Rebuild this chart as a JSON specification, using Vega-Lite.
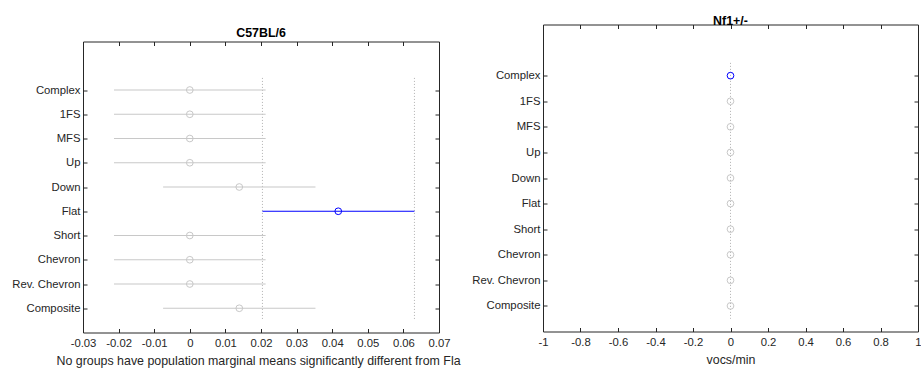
{
  "$schema": "https://vega.github.io/schema/vega-lite/v6.json",
  "padding": {"left": 11, "top": 13.5, "right": 0, "bottom": 0},
  "background": "white",
  "config": {
    "font": "Liberation Sans",
    "view": {"stroke": "#262626", "strokeWidth": 1},
    "axis": {
      "grid": false,
      "domain": false,
      "tickColor": "#262626",
      "tickSize": -4,
      "labelColor": "#262626",
      "labelFont": "Liberation Sans",
      "labelFontSize": 11.3,
      "labelOverlap": false,
      "labelFlush": false,
      "titleFont": "Liberation Sans",
      "titleFontSize": 12.4,
      "titleFontWeight": "normal",
      "titleColor": "#262626"
    },
    "title": {"font": "Liberation Sans", "fontSize": 12.4, "fontWeight": "bold", "color": "#000000", "offset": -3}
  },
  "datasets": {
    "c57": [
      {"group": "Complex", "value": 0, "lo": -0.0213, "hi": 0.0213, "status": "ns"},
      {"group": "1FS", "value": 0, "lo": -0.0213, "hi": 0.0213, "status": "ns"},
      {"group": "MFS", "value": 0, "lo": -0.0213, "hi": 0.0213, "status": "ns"},
      {"group": "Up", "value": 0, "lo": -0.0213, "hi": 0.0213, "status": "ns"},
      {"group": "Down", "value": 0.0139, "lo": -0.0075, "hi": 0.0353, "status": "ns"},
      {"group": "Flat", "value": 0.0417, "lo": 0.0204, "hi": 0.0631, "status": "selected"},
      {"group": "Short", "value": 0, "lo": -0.0213, "hi": 0.0213, "status": "ns"},
      {"group": "Chevron", "value": 0, "lo": -0.0213, "hi": 0.0213, "status": "ns"},
      {"group": "Rev. Chevron", "value": 0, "lo": -0.0213, "hi": 0.0213, "status": "ns"},
      {"group": "Composite", "value": 0.0139, "lo": -0.0075, "hi": 0.0353, "status": "ns"}
    ],
    "nf1": [
      {"group": "Complex", "value": 0, "lo": 0, "hi": 0, "status": "selected"},
      {"group": "1FS", "value": 0, "lo": 0, "hi": 0, "status": "ns"},
      {"group": "MFS", "value": 0, "lo": 0, "hi": 0, "status": "ns"},
      {"group": "Up", "value": 0, "lo": 0, "hi": 0, "status": "ns"},
      {"group": "Down", "value": 0, "lo": 0, "hi": 0, "status": "ns"},
      {"group": "Flat", "value": 0, "lo": 0, "hi": 0, "status": "ns"},
      {"group": "Short", "value": 0, "lo": 0, "hi": 0, "status": "ns"},
      {"group": "Chevron", "value": 0, "lo": 0, "hi": 0, "status": "ns"},
      {"group": "Rev. Chevron", "value": 0, "lo": 0, "hi": 0, "status": "ns"},
      {"group": "Composite", "value": 0, "lo": 0, "hi": 0, "status": "ns"}
    ]
  },
  "spacing": 10,
  "hconcat": [
    {
      "spacing": 0.01,
      "vconcat": [
        {
          "width": 356,
          "height": 1,
          "view": {"stroke": null},
          "data": {"values": []},
          "mark": {"type": "point", "opacity": 0},
          "encoding": {}
        },
        {
          "title": {"text": "C57BL/6", "offset": 2},
          "width": 356,
          "height": 291,
          "data": {"name": "c57"},
          "resolve": {"axis": {"x": "independent", "y": "independent"}},
          "layer": [
            {
              "transform": [{"filter": "datum.status == 'selected'"}],
              "mark": {"type": "rule", "strokeDash": [1, 2], "color": "#b0b0b0", "strokeWidth": 1, "yOffset": -12.1, "y2Offset": 12.1},
              "encoding": {
                "x": {"field": "lo", "type": "quantitative", "axis": null},
                "y": {"datum": "Complex", "type": "nominal", "axis": null},
                "y2": {"datum": "Composite"}
              }
            },
            {
              "transform": [{"filter": "datum.status == 'selected'"}],
              "mark": {"type": "rule", "strokeDash": [1, 2], "color": "#b0b0b0", "strokeWidth": 1, "yOffset": -12.1, "y2Offset": 12.1},
              "encoding": {
                "x": {"field": "hi", "type": "quantitative", "axis": null},
                "y": {"datum": "Complex", "type": "nominal", "axis": null},
                "y2": {"datum": "Composite"}
              }
            },
            {
              "mark": {"type": "rule", "strokeWidth": 1.2},
              "encoding": {
                "x": {
                  "field": "lo", "type": "quantitative",
                  "scale": {"domain": [-0.03, 0.07], "nice": false, "zero": false},
                  "axis": {
                    "orient": "bottom",
                    "values": [-0.03, -0.02, -0.01, 0, 0.01, 0.02, 0.03, 0.04, 0.05, 0.06, 0.07],
                    "labelExpr": "'' + datum.value",
                    "labelPadding": 9,
                    "title": "No groups have population marginal means significantly different from Fla",
                    "titleAlign": "left",
                    "titleAnchor": "start",
                    "titleX": -27,
                    "titlePadding": 6
                  }
                },
                "x2": {"field": "hi"},
                "y": {
                  "field": "group", "type": "nominal",
                  "scale": {"type": "point", "domain": [" ", "Complex", "1FS", "MFS", "Up", "Down", "Flat", "Short", "Chevron", "Rev. Chevron", "Composite"], "padding": 1, "align": 0.5},
                  "axis": {"orient": "left", "title": null, "labelPadding": 7, "values": ["Complex", "1FS", "MFS", "Up", "Down", "Flat", "Short", "Chevron", "Rev. Chevron", "Composite"]}
                },
                "color": {"field": "status", "type": "nominal", "scale": {"domain": ["ns", "selected"], "range": ["#c8c8c8", "#0000ff"]}, "legend": null}
              }
            },
            {
              "mark": {"type": "point", "shape": "circle", "size": 45, "strokeWidth": 1, "filled": false, "opacity": 1},
              "encoding": {
                "x": {
                  "field": "value", "type": "quantitative",
                  "axis": {"orient": "top", "values": [-0.03, -0.02, -0.01, 0, 0.01, 0.02, 0.03, 0.04, 0.05, 0.06, 0.07], "labels": false, "title": null}
                },
                "y": {"field": "group", "type": "nominal", "axis": {"orient": "right", "labels": false, "title": null, "values": ["Complex", "1FS", "MFS", "Up", "Down", "Flat", "Short", "Chevron", "Rev. Chevron", "Composite"]}},
                "color": {"field": "status", "type": "nominal", "scale": {"domain": ["ns", "selected"], "range": ["#c8c8c8", "#0000ff"]}, "legend": null}
              }
            }
          ]
        }
      ]
    },
    {
      "title": "Nf1+/-",
      "width": 375,
      "height": 307,
      "data": {"name": "nf1"},
      "resolve": {"axis": {"x": "independent", "y": "independent"}},
      "layer": [
        {
          "transform": [{"filter": "datum.status == 'selected'"}],
          "mark": {"type": "rule", "strokeDash": [1, 2], "color": "#b0b0b0", "strokeWidth": 1, "yOffset": -12.8, "y2Offset": 12.8},
          "encoding": {
            "x": {"field": "value", "type": "quantitative", "axis": null},
            "y": {"datum": "Complex", "type": "nominal", "axis": null},
            "y2": {"datum": "Composite"}
          }
        },
        {
          "mark": {"type": "rule", "strokeWidth": 1.2},
          "encoding": {
            "x": {
              "field": "lo", "type": "quantitative",
              "scale": {"domain": [-1, 1], "nice": false, "zero": false},
              "axis": {
                "orient": "bottom",
                "values": [-1, -0.8, -0.6, -0.4, -0.2, 0, 0.2, 0.4, 0.6, 0.8, 1],
                "labelExpr": "'' + datum.value",
                "labelPadding": 9,
                "title": "vocs/min",
                "titlePadding": 6
              }
            },
            "x2": {"field": "hi"},
            "y": {
              "field": "group", "type": "nominal",
              "scale": {"type": "point", "domain": [" ", "Complex", "1FS", "MFS", "Up", "Down", "Flat", "Short", "Chevron", "Rev. Chevron", "Composite"], "padding": 1, "align": 0.5},
              "axis": {"orient": "left", "title": null, "labelPadding": 7, "values": ["Complex", "1FS", "MFS", "Up", "Down", "Flat", "Short", "Chevron", "Rev. Chevron", "Composite"]}
            },
            "color": {"field": "status", "type": "nominal", "scale": {"domain": ["ns", "selected"], "range": ["#c8c8c8", "#0000ff"]}, "legend": null}
          }
        },
        {
          "mark": {"type": "point", "shape": "circle", "size": 45, "strokeWidth": 1, "filled": false, "opacity": 1},
          "encoding": {
            "x": {
              "field": "value", "type": "quantitative",
              "axis": {"orient": "top", "values": [-1, -0.8, -0.6, -0.4, -0.2, 0, 0.2, 0.4, 0.6, 0.8, 1], "labels": false, "title": null}
            },
            "y": {"field": "group", "type": "nominal", "axis": {"orient": "right", "labels": false, "title": null, "values": ["Complex", "1FS", "MFS", "Up", "Down", "Flat", "Short", "Chevron", "Rev. Chevron", "Composite"]}},
            "color": {"field": "status", "type": "nominal", "scale": {"domain": ["ns", "selected"], "range": ["#c8c8c8", "#0000ff"]}, "legend": null}
          }
        }
      ]
    }
  ]
}
